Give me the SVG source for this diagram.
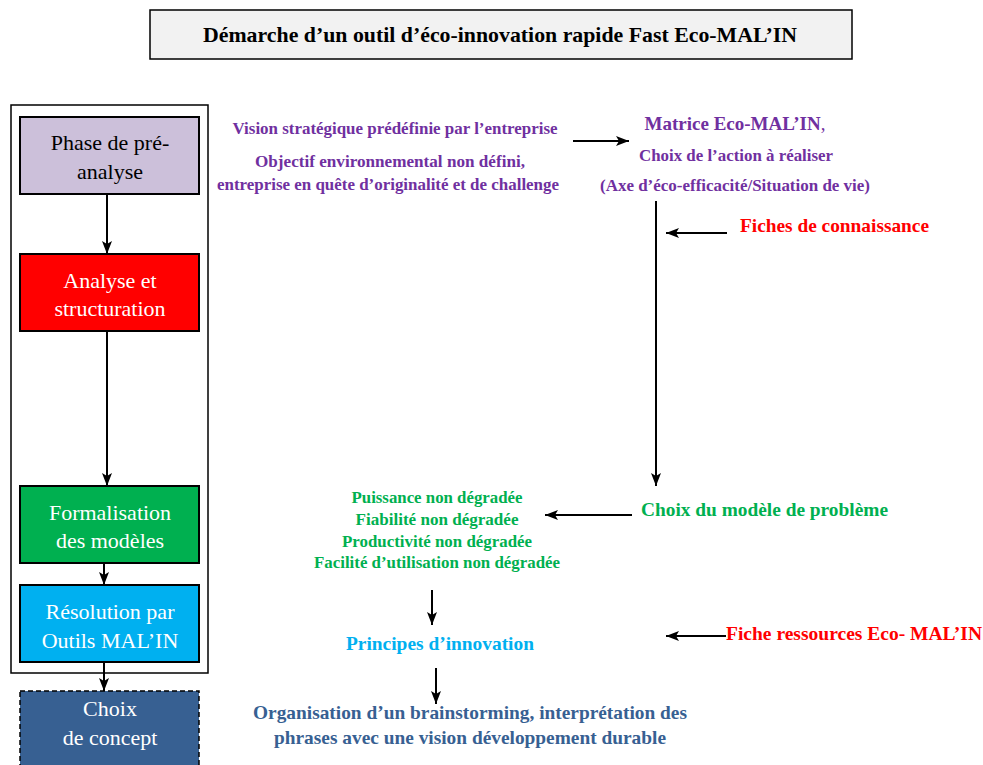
<svg xmlns="http://www.w3.org/2000/svg" width="983" height="765" viewBox="0 0 983 765">
<defs>
<marker id="ah" markerWidth="13" markerHeight="10" refX="13" refY="5" orient="auto" markerUnits="userSpaceOnUse"><path d="M0,0 L13,5 L0,10 L3,5 z" fill="#000"/></marker>
<style>
.n{font-size:22px;text-anchor:middle}
.b{font-weight:bold;text-anchor:middle}
.c{stroke:#000;stroke-width:2;fill:none;marker-end:url(#ah)}
.box{stroke:#000;stroke-width:2}
</style>
</defs>
<rect width="983" height="765" fill="#fff"/>
<g font-family="Liberation Serif, DejaVu Serif, serif">
<g id="title">
<rect x="150" y="10" width="702" height="49" fill="#f2f2f2" stroke="#000" stroke-width="1.5"/>
<text x="500" y="42" class="b" font-size="21" textLength="594" lengthAdjust="spacingAndGlyphs">Démarche d’un outil d’éco-innovation rapide Fast Eco-MAL’IN</text>
</g>
<g id="frame"><rect x="11" y="105" width="197" height="568" fill="none" stroke="#000" stroke-width="1.5"/></g>
<g id="phase">
<rect x="20" y="117" width="179" height="77" fill="#ccc0da" class="box"/>
<text x="110" y="150" class="n">Phase de pré-</text>
<text x="110" y="179" class="n">analyse</text>
</g>
<g id="analyse">
<rect x="20" y="254" width="179" height="77" fill="#ff0000" class="box"/>
<text x="110" y="288" class="n" fill="#fff">Analyse et</text>
<text x="110" y="316" class="n" fill="#fff">structuration</text>
</g>
<g id="formalisation">
<rect x="20" y="486" width="179" height="77" fill="#00b050" class="box"/>
<text x="110" y="520" class="n" fill="#fff">Formalisation</text>
<text x="110" y="548" class="n" fill="#fff">des modèles</text>
</g>
<g id="resolution">
<rect x="20" y="585" width="179" height="77" fill="#00b0f0" class="box"/>
<text x="110" y="619" class="n" fill="#fff">Résolution par</text>
<text x="110" y="648" class="n" fill="#fff">Outils MAL’IN</text>
</g>
<g id="concept">
<rect x="20" y="691" width="179" height="80" fill="#376092" stroke="#000" stroke-width="1.5" stroke-dasharray="5,3"/>
<text x="110" y="716" class="n" fill="#fff">Choix</text>
<text x="110" y="745" class="n" fill="#fff">de concept</text>
</g>
<g id="vision" fill="#7030a0">
<text x="395" y="134" class="b" font-size="16" textLength="325" lengthAdjust="spacingAndGlyphs">Vision stratégique prédéfinie par l’entreprise</text>
<text x="390" y="167" class="b" font-size="16" textLength="270" lengthAdjust="spacingAndGlyphs">Objectif environnemental non défini,</text>
<text x="388" y="190" class="b" font-size="16" textLength="342" lengthAdjust="spacingAndGlyphs">entreprise en quête d’originalité et de challenge</text>
</g>
<g id="matrice" fill="#7030a0">
<text x="735" y="130" class="b" font-size="19">Matrice Eco-MAL’IN<tspan font-weight="normal">,</tspan></text>
<text x="736" y="161" class="b" font-size="16" textLength="194" lengthAdjust="spacingAndGlyphs">Choix de l’action à réaliser</text>
<text x="735" y="191" class="b" font-size="16" textLength="270" lengthAdjust="spacingAndGlyphs">(Axe d’éco-efficacité/Situation de vie)</text>
</g>
<g id="fiches"><text x="740" y="232" font-weight="bold" font-size="19" fill="#ff0000" textLength="189" lengthAdjust="spacingAndGlyphs">Fiches de connaissance</text></g>
<g id="modele"><text x="641" y="516" font-weight="bold" font-size="18" fill="#00b050" textLength="247" lengthAdjust="spacingAndGlyphs">Choix du modèle de problème</text></g>
<g id="criteres" fill="#00b050">
<text x="437" y="503" class="b" font-size="16" textLength="171" lengthAdjust="spacingAndGlyphs">Puissance non dégradée</text>
<text x="437" y="525" class="b" font-size="16" textLength="163" lengthAdjust="spacingAndGlyphs">Fiabilité non dégradée</text>
<text x="437" y="547" class="b" font-size="16" textLength="190" lengthAdjust="spacingAndGlyphs">Productivité non dégradée</text>
<text x="437" y="568" class="b" font-size="16" textLength="246" lengthAdjust="spacingAndGlyphs">Facilité d’utilisation non dégradée</text>
</g>
<g id="principes"><text x="440" y="650" class="b" font-size="19" fill="#00b0f0" textLength="188" lengthAdjust="spacingAndGlyphs">Principes d’innovation</text></g>
<g id="ressources"><text x="726" y="640" font-weight="bold" font-size="18" fill="#ff0000" textLength="256" lengthAdjust="spacingAndGlyphs">Fiche ressources Eco- MAL’IN</text></g>
<g id="brainstorming" fill="#376092">
<text x="470" y="719" class="b" font-size="19" textLength="434" lengthAdjust="spacingAndGlyphs">Organisation d’un brainstorming, interprétation des</text>
<text x="470" y="744" class="b" font-size="19" textLength="392" lengthAdjust="spacingAndGlyphs">phrases avec une vision développement durable</text>
</g>
</g>
<g id="connectors">
<line x1="107" y1="194" x2="107" y2="254" class="c"/>
<line x1="107" y1="331" x2="107" y2="486" class="c"/>
<line x1="104" y1="563" x2="104" y2="585" class="c"/>
<line x1="104" y1="662" x2="104" y2="691" class="c"/>
<line x1="573" y1="141" x2="629" y2="141" class="c"/>
<line x1="656" y1="201" x2="656" y2="486" class="c"/>
<line x1="727" y1="233" x2="666" y2="233" class="c"/>
<line x1="632" y1="515" x2="545" y2="515" class="c"/>
<line x1="432" y1="590" x2="432" y2="625" class="c"/>
<line x1="726" y1="636" x2="666" y2="636" class="c"/>
<line x1="436" y1="668" x2="436" y2="704" class="c"/>
</g>
</svg>
